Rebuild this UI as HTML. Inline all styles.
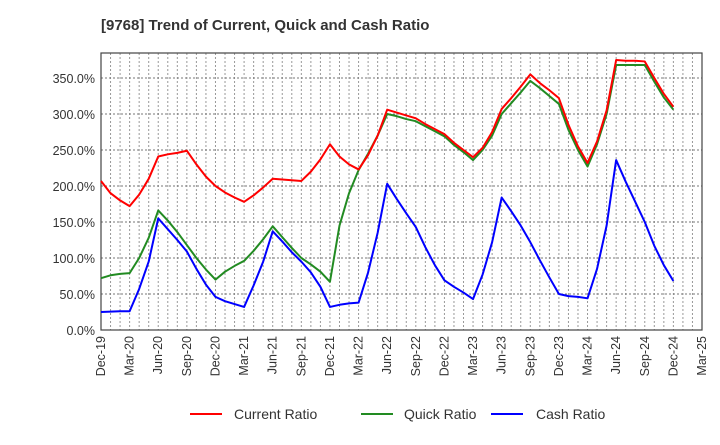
<!DOCTYPE html>
<html><head><meta charset="utf-8"><style>body{margin:0;background:#fff}svg{font-family:"Liberation Sans",sans-serif}</style></head>
<body>
<svg id="c" width="720" height="440">
<text x="101" y="30" font-size="15" font-weight="bold" fill="#333">[9768]  Trend of Current, Quick and Cash Ratio</text>
<g id="grid"></g><g id="axes"></g><g id="series"></g>
<g>
<line x1="190" y1="414" x2="222" y2="414" stroke="#f00" stroke-width="2"/><text x="234" y="419" font-size="14" fill="#333">Current Ratio</text>
<line x1="361" y1="414" x2="393" y2="414" stroke="#228b22" stroke-width="2"/><text x="404" y="419" font-size="14" fill="#333">Quick Ratio</text>
<line x1="491" y1="414" x2="523" y2="414" stroke="#00f" stroke-width="2"/><text x="536" y="419" font-size="14" fill="#333">Cash Ratio</text>
</g>
</svg>
<script>
const xLabels=["Dec-19","Mar-20","Jun-20","Sep-20","Dec-20","Mar-21","Jun-21","Sep-21","Dec-21","Mar-22","Jun-22","Sep-22","Dec-22","Mar-23","Jun-23","Sep-23","Dec-23","Mar-24","Jun-24","Sep-24","Dec-24","Mar-25"];
const yTicks=[0,50,100,150,200,250,300,350];
const current=[207,190,180,172,188,210,241,244,246,249,230,213,200,191,184,178,187,198,210,209,208,207,220,237,258,241,230,223,243,270,306,302,298,294,286,279,272,260,250,240,253,275,307,322,338,355,343,333,322,285,255,232,262,305,375,374,374,373,350,328,310];
const quick=[72,76,78,79,100,128,166,152,136,118,100,84,70,81,89,96,110,126,144,129,114,100,91,81,67,145,190,222,245,270,300,297,293,290,283,276,269,257,247,236,250,270,300,315,330,346,336,325,314,278,250,227,258,300,368,368,368,368,345,323,306];
const cash=[25,25.5,26,26,57,95,155,140,125,109,85,63,46,40,36,32,62,95,137,123,108,95,80,60,32,35,37,38,80,135,203,182,162,143,115,90,69,60,52,43,77,122,184,165,145,122,97,73,50,47,46,44,85,145,236,206,178,150,117,90,68];
const L=101,R=702,T=53,B=330,months=63;
const xs=m=>L+(R-L)*m/months, ys=v=>B-v*0.72;
const ns="http://www.w3.org/2000/svg";
function mk(t,a,p){const e=document.createElementNS(ns,t);for(const k in a)e.setAttribute(k,a[k]);p.appendChild(e);return e;}
const g=document.getElementById('grid'),ax=document.getElementById('axes'),sr=document.getElementById('series');
for(let m=1;m<months;m++){const l=mk('line',{x1:xs(m),x2:xs(m),y1:T,y2:B,stroke:'#999','stroke-dasharray':'2,2','stroke-width':1},g);

}
yTicks.forEach(v=>{if(v>0){const l=mk('line',{x1:L,x2:R,y1:ys(v),y2:ys(v),stroke:'#777','stroke-dasharray':'2,2','stroke-width':1},g);

}
const t=mk('text',{x:L-6,y:ys(v)+5,'text-anchor':'end','font-size':12.5,fill:'#333'},ax);t.textContent=v.toFixed(1)+'%';

});
xLabels.forEach((s,i)=>{const x=xs(i*3);const t=mk('text',{x:0,y:0,'text-anchor':'end','font-size':12.5,fill:'#333',transform:`translate(${x+4},${B+6}) rotate(-90)`},ax);t.textContent=s;

});
const fr=mk('rect',{x:L,y:T,width:R-L,height:B-T,fill:'none',stroke:'#444','stroke-width':1.2},ax);


[[cash,'#00f','cash-ratio-line'],[quick,'#228b22','quick-ratio-line'],[current,'#f00','current-ratio-line']].forEach(([d,c,n])=>{
const p=mk('polyline',{points:d.map((v,i)=>xs(i)+','+ys(v)).join(' '),fill:'none',stroke:c,'stroke-width':2,'stroke-linejoin':'round'},sr);

});
</script>
</body></html>
